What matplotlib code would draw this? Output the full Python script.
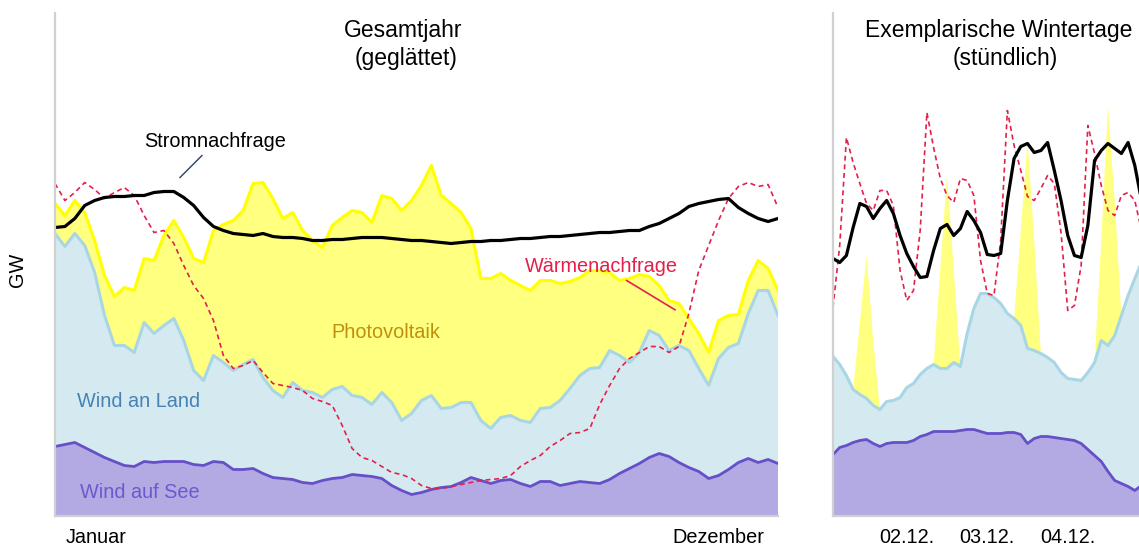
import numpy as np
import matplotlib
matplotlib.use("Agg")
import matplotlib.pyplot as plt

plt.rcParams['font.family'] = ['Liberation Sans', 'DejaVu Sans']

# ---------------- data: whole year (smoothed), every 5 days ----------------
days = np.arange(0, 366, 5)
offshore_year = [69, 71, 73, 68, 63, 58, 54, 50, 49, 54,
                 53, 54, 54, 54, 51, 50, 54, 53, 46, 46,
                 47, 42, 38, 37, 36, 33, 32, 35, 37, 38,
                 41, 40, 39, 37, 30, 25, 21, 23, 26, 28,
                 29, 33, 38, 35, 32, 35, 36, 32, 29, 34,
                 34, 30, 32, 34, 33, 32, 36, 42, 47, 52,
                 58, 62, 59, 53, 48, 44, 37, 40, 46, 53,
                 57, 53, 56, 52]
onshore_year = [213, 198, 209, 202, 180, 142, 116, 120, 114, 139,
                129, 136, 143, 121, 94, 85, 106, 100, 99, 105,
                109, 96, 87, 81, 97, 92, 91, 83, 89, 91,
                79, 78, 72, 86, 83, 70, 81, 92, 94, 79,
                79, 80, 75, 60, 55, 63, 64, 63, 64, 73,
                74, 85, 95, 106, 114, 116, 129, 118, 106, 111,
                127, 118, 106, 117, 117, 103, 93, 117, 122, 119,
                145, 172, 169, 148]
pv_year = [30, 31, 33, 33, 32, 40, 49, 58, 62, 64,
           73, 90, 98, 103, 112, 118, 125, 138, 150, 154,
           176, 195, 192, 179, 170, 160, 152, 150, 164, 169,
           185, 185, 182, 197, 204, 210, 213, 215, 230, 213,
           204, 190, 174, 142, 150, 144, 135, 135, 132, 128,
           127, 117, 107, 98, 98, 97, 78, 75, 84, 78,
           54, 50, 50, 42, 32, 35, 33, 38, 32, 29,
           33, 30, 22, 25]
demand_year = [288, 289, 297, 310, 315, 318, 319, 319, 320, 320,
               323, 324, 324, 318, 310, 298, 289, 285, 282, 281,
               280, 282, 279, 278, 278, 277, 275, 275, 276, 276,
               277, 278, 278, 278, 277, 276, 275, 275, 274, 273,
               272, 273, 274, 274, 275, 275, 276, 277, 277, 278,
               279, 279, 280, 281, 282, 283, 283, 284, 285, 285,
               289, 292, 297, 302, 309, 312, 314, 316, 317, 308,
               302, 297, 294, 297]
heat_year = [332, 315, 323, 333, 326, 317, 323, 328, 320, 300,
             283, 285, 272, 250, 230, 217, 195, 160, 147, 150,
             155, 143, 132, 130, 128, 125, 117, 114, 110, 90,
             67, 58, 55, 49, 43, 41, 37, 30, 27, 27,
             29, 31, 33, 35, 36, 37, 40, 49, 55, 60,
             69, 75, 82, 83, 87, 111, 130, 147, 157, 163,
             169, 169, 163, 169, 202, 245, 270, 295, 317, 329,
             333, 329, 331, 308]
year_ticks = [20.7, 334.7]
year_labels = ['Januar', 'Dezember']

# ---------------- data: winter days (hourly), every 2 hours ----------------
hours = np.arange(2, 96, 2)
offshore_days = [61, 68, 70, 73, 75, 76, 72, 69, 72, 73,
                 73, 73, 75, 79, 81, 84, 84, 84, 84, 85,
                 86, 86, 84, 82, 82, 82, 83, 83, 81, 72,
                 77, 79, 79, 78, 77, 76, 75, 72, 66, 60,
                 54, 44, 35, 32, 29, 25, 30]
onshore_days = [98, 83, 70, 53, 46, 41, 38, 37, 42, 42,
                45, 55, 57, 62, 66, 67, 63, 63, 69, 64,
                96, 121, 138, 140, 136, 130, 119, 114, 109, 95,
                88, 83, 79, 75, 66, 61, 61, 63, 77, 93,
                121, 126, 145, 168, 191, 212, 223]
pv_days = [0, 0, 0, 0, 72, 143, 65, 0, 0, 0,
           0, 0, 0, 0, 0, 0, 100, 193, 94, 0,
           0, 0, 0, 0, 0, 0, 0, 0, 95, 208,
           110, 0, 0, 0, 0, 0, 0, 0, 0, 0,
           100, 240, 135, 0, 0, 0, 0]
demand_days = [257, 253, 260, 288, 312, 309, 297, 307, 315, 302,
               280, 262, 249, 238, 239, 265, 287, 291, 280, 287,
               304, 295, 283, 261, 260, 262, 315, 357, 369, 372,
               363, 365, 373, 345, 315, 280, 260, 258, 290, 355,
               365, 372, 367, 362, 373, 350, 315]
heat_days = [208, 270, 378, 353, 332, 312, 305, 325, 325, 310,
             245, 215, 225, 285, 403, 368, 337, 320, 313, 337,
             335, 320, 255, 222, 220, 275, 405, 370, 345, 319,
             315, 327, 340, 332, 283, 205, 210, 250, 390, 362,
             330, 305, 300, 320, 323, 315, 285]
day_ticks = [24, 48, 72]
day_labels = ['02.12.', '03.12.', '04.12.']

# ---------------- styling ----------------
OFF_FILL, OFF_LINE = '#b3aae4', '#6650c8'
ON_FILL, ON_LINE = '#d5eaf0', '#a9d6e5'
PV_FILL, PV_LINE = '#ffff80', '#ffff00'
HEAT = '#e3204c'
SPINE = '#d0d0d0'
FS = 14.3
TFS = 16.5

W, H = 1139, 545
fig = plt.figure(figsize=(W / 100, H / 100), dpi=100)


def px_box(x0, y_top, x1, y_bot):
    return [x0 / W, 1 - y_bot / H, (x1 - x0) / W, (y_bot - y_top) / H]


ax1 = fig.add_axes(px_box(55, 13, 778, 515.5))
ax2 = fig.add_axes(px_box(833, 13, 1168, 515.5))


def draw(ax, x, off, on, pv, dem, heat, pv_edge):
    off = np.asarray(off, float)
    on = np.asarray(on, float)
    pv = np.asarray(pv, float)
    ax.stackplot(x, off, on, pv, colors=[OFF_FILL, ON_FILL, PV_FILL],
                 linewidth=0, zorder=1)
    lvl1 = off
    lvl2 = off + on
    lvl3 = lvl2 + pv
    if pv_edge:
        ax.plot(x, lvl3, color=PV_LINE, lw=2.2, zorder=2,
                solid_joinstyle='round')
    ax.plot(x, lvl2, color=ON_LINE, lw=2.2, zorder=3, solid_joinstyle='round')
    ax.plot(x, lvl1, color=OFF_LINE, lw=2.0, zorder=4, solid_joinstyle='round')
    ax.plot(x, heat, color=HEAT, lw=1.2, ls=(0, (3, 2.2)), zorder=5)
    ax.plot(x, dem, color='black', lw=2.3, zorder=6, solid_joinstyle='round')
    ax.set_ylim(0, 502.5)
    ax.set_yticks([])
    for s in ['top', 'right']:
        ax.spines[s].set_visible(False)
    for s in ['left', 'bottom']:
        ax.spines[s].set_color(SPINE)
        ax.spines[s].set_linewidth(1.6)
        ax.spines[s].set_zorder(10)
    ax.tick_params(axis='x', length=0, pad=9, labelsize=FS)
    ax.set_facecolor('none')


draw(ax1, days, offshore_year, onshore_year, pv_year, demand_year, heat_year, True)
ax1.set_xlim(0, 365)
ax1.set_xticks(year_ticks, year_labels)

draw(ax2, hours, offshore_days, onshore_days, pv_days, demand_days, heat_days, False)
ax2.set_xlim(2, 101.9)
ax2.set_xticks(day_ticks, day_labels)

# annotations on left panel
ax1.text(80.8, 374, 'Stromnachfrage', ha='center', va='center', fontsize=FS,
         color='black', zorder=8)
ax1.plot([74.2, 63.1], [360, 338], color='#2b3f5c', lw=1.0, zorder=8)
ax1.text(276.1, 249, 'Wärmenachfrage', ha='center', va='center', fontsize=FS,
         color=HEAT, zorder=8)
ax1.plot([288.6, 313.0], [235, 205.7], color=HEAT, lw=1.2, zorder=8)
ax1.text(167.1, 183, 'Photovoltaik', ha='center', va='center', fontsize=FS,
         color='#bf9010', zorder=8)
ax1.text(42.2, 114, 'Wind an Land', ha='center', va='center', fontsize=FS,
         color='#4682b4', zorder=8)
ax1.text(42.7, 23, 'Wind auf See', ha='center', va='center', fontsize=FS,
         color='#6a5acd', zorder=8)

# titles and axis label
fig.text(403 / W, 1 - 30 / H, 'Gesamtjahr', ha='center', va='center', fontsize=TFS)
fig.text(406 / W, 1 - 58 / H, '(geglättet)', ha='center', va='center', fontsize=TFS)
fig.text(998.5 / W, 1 - 30 / H, 'Exemplarische Wintertage', ha='center', va='center',
         fontsize=TFS)
fig.text(1005 / W, 1 - 58 / H, '(stündlich)', ha='center', va='center', fontsize=TFS)
fig.text(18 / W, 1 - 270 / H, 'GW', rotation=90, ha='center', va='center', fontsize=FS)

fig.savefig('out.png', dpi=100)
